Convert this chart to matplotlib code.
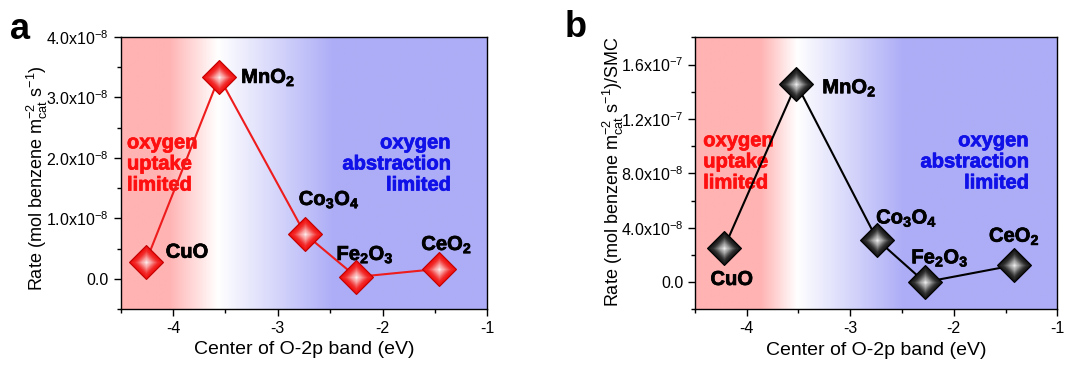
import matplotlib.pyplot as plt
import numpy as np
from matplotlib.colors import LinearSegmentedColormap, to_rgb
import matplotlib.patheffects as pe

plt.rcParams['font.family'] = ['Liberation Sans', 'DejaVu Sans']
plt.rcParams['mathtext.fontset'] = 'custom'
plt.rcParams['mathtext.rm'] = 'Liberation Sans'
plt.rcParams['mathtext.it'] = 'Liberation Sans:italic'
plt.rcParams['mathtext.bf'] = 'Liberation Sans:bold'

# data
oxides = ['CuO', 'MnO$_\\mathbf{2}$', 'Co$_\\mathbf{3}$O$_\\mathbf{4}$',
          'Fe$_\\mathbf{2}$O$_\\mathbf{3}$', 'CeO$_\\mathbf{2}$']
center_a = [-4.26, -3.56, -2.74, -2.25, -1.46]
rate_a = [0.28e-8, 3.34e-8, 0.74e-8, 0.03e-8, 0.165e-8]
center_b = [-4.22, -3.52, -2.74, -2.28, -1.42]
rate_b = [2.5e-8, 14.6e-8, 3.12e-8, 0.0, 1.24e-8]

yticks_a = [0, 1e-8, 2e-8, 3e-8, 4e-8]
ytick_labels_a = ['0.0', '1.0x10$^{-8}$', '2.0x10$^{-8}$', '3.0x10$^{-8}$', '4.0x10$^{-8}$']
yticks_b = [0, 4e-8, 8e-8, 12e-8, 16e-8]
ytick_labels_b = ['0.0', '4.0x10$^{-8}$', '8.0x10$^{-8}$', '1.2x10$^{-7}$', '1.6x10$^{-7}$']

# label positions (left edge, vertical centre) for each oxide
lab_a = [(-4.07, 0.44e-8), (-3.35, 3.33e-8), (-2.80, 1.31e-8), (-2.44, 0.40e-8), (-1.63, 0.565e-8)]
lab_b = [(-4.35, 0.2e-8), (-3.27, 14.29e-8), (-2.75, 4.71e-8), (-2.41, 1.78e-8), (-1.66, 3.37e-8)]

RED_BG = '#ffb3b3'
BLUE_BG = '#adadf7'
heavy = [pe.withStroke(linewidth=0.5, foreground='black')]

fig = plt.figure(figsize=(10.68, 3.67), dpi=100)
ax_a = fig.add_axes([0.113, 0.158, 0.3433, 0.741])
ax_b = fig.add_axes([0.6507, 0.157, 0.3393, 0.741])


def background(ax, ylim, stops):
    cmap = LinearSegmentedColormap.from_list(
        'bg', [(0, RED_BG), (stops[0], RED_BG), (stops[1], 'white'),
               (stops[2], BLUE_BG), (1, BLUE_BG)])
    grad = np.linspace(0, 1, 500).reshape(1, -1)
    ax.imshow(grad, extent=[-4.5, -1, ylim[0], ylim[1]], cmap=cmap,
              aspect='auto', zorder=0, interpolation='bilinear')


def shiny_markers(ax, x, y, base, edge, ms=17.5, n=14):
    base = np.array(to_rgb(base))
    ax.plot(x, y, ls='none', marker='D', ms=ms, mfc=base, mec=edge, mew=0.8, zorder=4)
    for i in range(1, n):
        f = i / n
        c = base * (1 - f ** 1.3) + np.ones(3) * f ** 1.3
        ax.plot(x, y, ls='none', marker='D', ms=ms * (1 - f) * 0.92,
                mfc=c, mec='none', zorder=4 + i * 0.01)


def region_text(ax, xl, xr, y):
    ax.text(xl, y, 'oxygen\nuptake\nlimited', color='#ff1010', fontsize=14.5,
            fontweight='bold', ha='left', va='center', linespacing=1.14, zorder=2,
            path_effects=[pe.withStroke(linewidth=0.5, foreground='#ff1010')])
    ax.text(xr, y, 'oxygen\nabstraction\nlimited', color='#1010e8', fontsize=14.5,
            fontweight='bold', ha='right', va='center', multialignment='right',
            linespacing=1.14, zorder=2,
            path_effects=[pe.withStroke(linewidth=0.5, foreground='#1010e8')])


def style(ax, ylim, yticks, ylabels, minor):
    ax.set_xlim(-4.5, -1)
    ax.set_ylim(*ylim)
    ax.set_xticks([-4, -3, -2, -1])
    ax.set_xticklabels(['-4', '-3', '-2', '-1'])
    ax.set_xticks(np.arange(-4.5, -0.9, 0.5), minor=True)
    ax.set_yticks(yticks)
    ax.set_yticklabels(ylabels)
    ax.set_yticks(minor, minor=True)
    ax.tick_params(which='both', direction='out', labelsize=11.5, width=1.0)
    ax.tick_params(which='major', length=5)
    ax.tick_params(which='minor', length=3)
    for s in ax.spines.values():
        s.set_linewidth(1.0)
    ax.set_xlabel('Center of O-2p band (eV)', fontsize=14, labelpad=4)


# panel a
background(ax_a, (-0.5e-8, 4.0e-8), (0.129, 0.263, 0.58))
ax_a.plot(center_a, rate_a, color='#ee1c1c', lw=1.5, zorder=3)
shiny_markers(ax_a, center_a, rate_a, '#f01010', '#c00000')
for name, (lx, ly) in zip(oxides, lab_a):
    ax_a.text(lx, ly, name, fontsize=14.5, fontweight='bold', ha='left', va='center',
              zorder=6, path_effects=heavy)
region_text(ax_a, -4.44, -1.35, 1.9e-8)
style(ax_a, (-0.5e-8, 4.0e-8), yticks_a, ytick_labels_a, np.arange(-0.5e-8, 4.01e-8, 0.5e-8))
ax_a.set_ylabel('Rate (mol benzene m$_{\\rm cat}^{-2}$ s$^{-1}$)', fontsize=13)
ax_a.yaxis.set_label_coords(-0.192, 0.48)
fig.text(0.009, 0.895, 'a', fontsize=26, fontweight='bold')

# panel b
background(ax_b, (-2e-8, 18e-8), (0.18, 0.28, 0.574))
ax_b.plot(center_b, rate_b, color='black', lw=1.5, zorder=3)
shiny_markers(ax_b, center_b, rate_b, '#151515', 'black')
for name, (lx, ly) in zip(oxides, lab_b):
    ax_b.text(lx, ly, name, fontsize=14.5, fontweight='bold', ha='left', va='center',
              zorder=6, path_effects=heavy)
region_text(ax_b, -4.42, -1.276, 8.85e-8)
style(ax_b, (-2e-8, 18e-8), yticks_b, ytick_labels_b, np.arange(-2e-8, 18.01e-8, 2e-8))
ax_b.set_ylabel('Rate (mol benzene m$_{\\rm cat}^{-2}$ s$^{-1}$)/SMC', fontsize=13)
ax_b.yaxis.set_label_coords(-0.19, 0.506)
fig.text(0.529, 0.9, 'b', fontsize=26, fontweight='bold')

fig.savefig('out.png', dpi=100)
